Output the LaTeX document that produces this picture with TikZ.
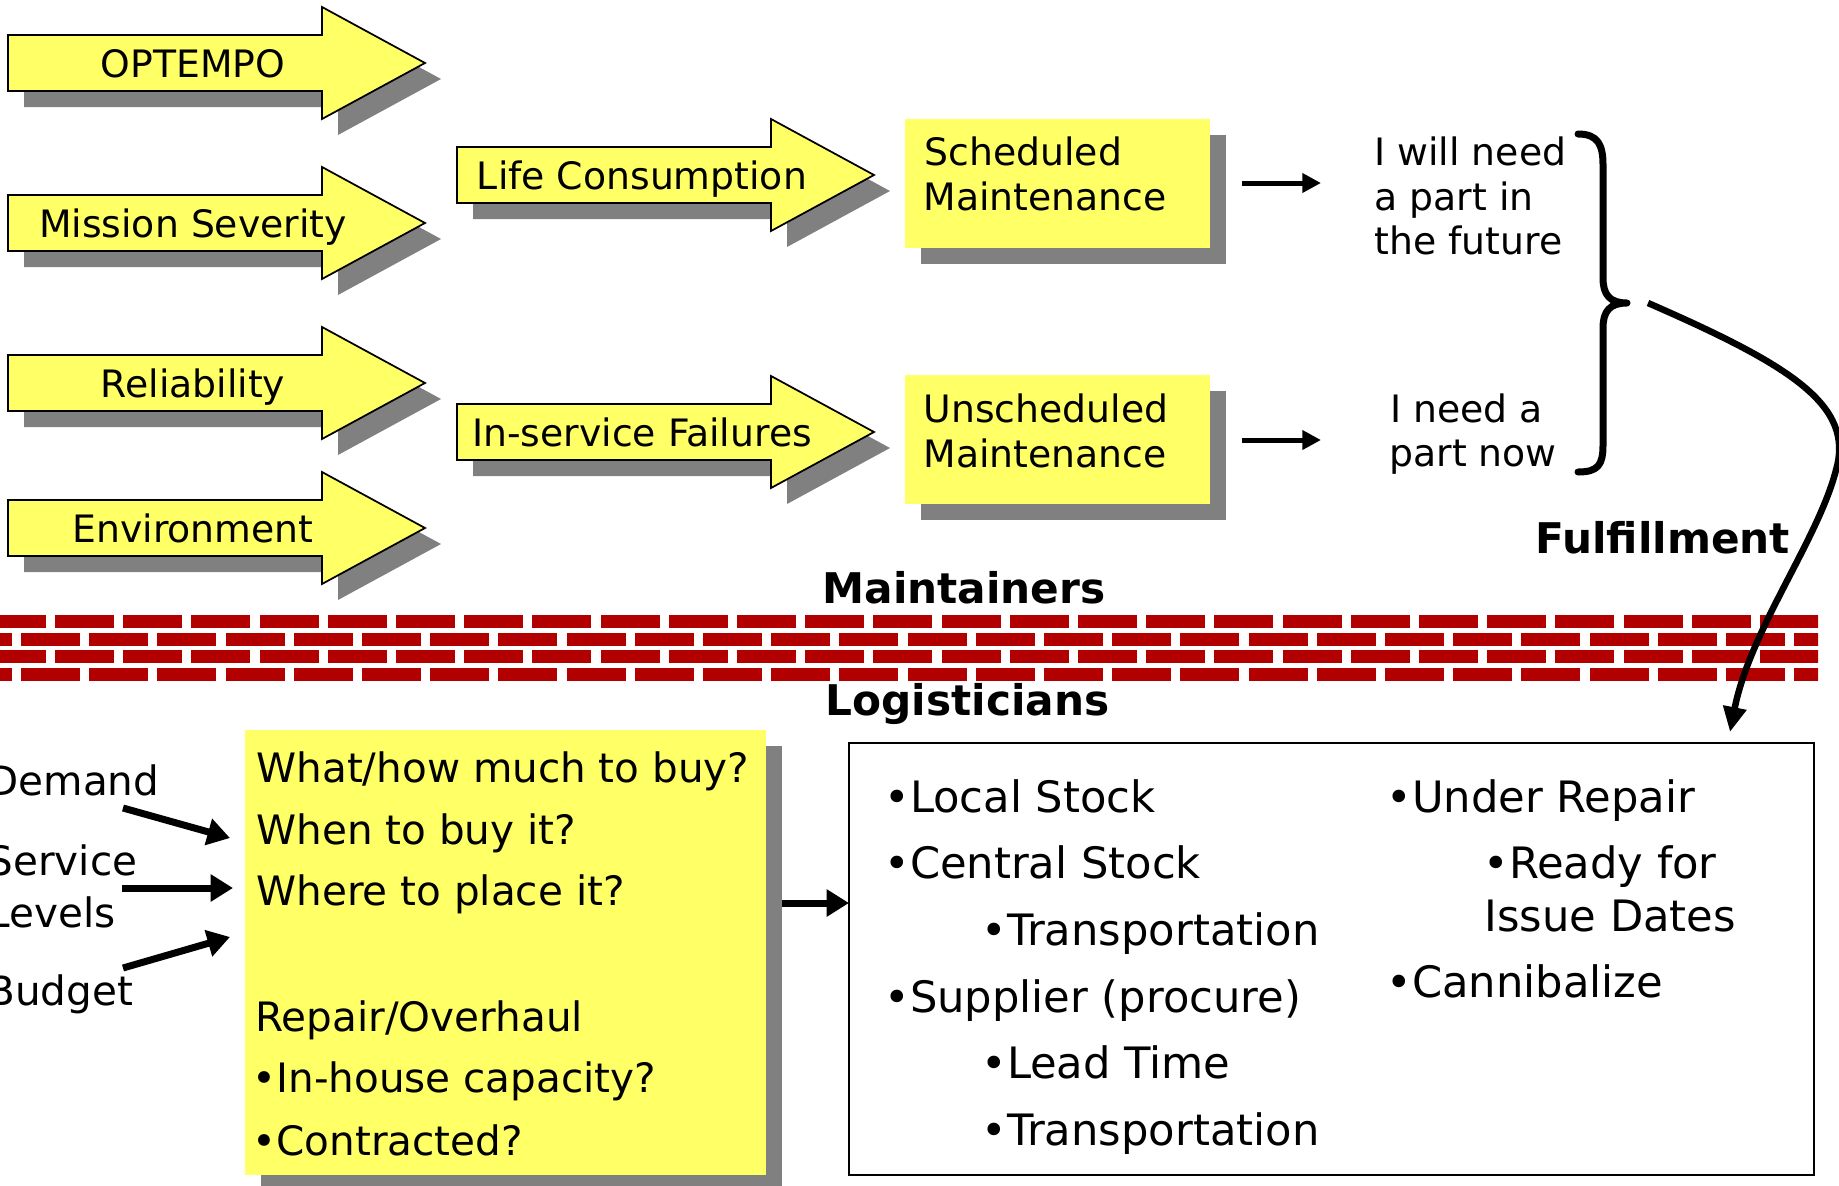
\documentclass[tikz,border=0pt]{standalone}
\usepackage{fontspec}
\setmainfont{DejaVu Sans}
\usetikzlibrary{arrows.meta}
\definecolor{yel}{RGB}{255,255,102}
\definecolor{shgray}{RGB}{128,128,128}
\definecolor{brick}{RGB}{178,0,0}
% #1 left x, #2 tip y, #3 name, #4 label
\newcommand\fatarrow[4]{%
  \path[fill=shgray] (#1+16,#2-12) -- (#1+330,#2-12) -- (#1+330,#2-40) -- (#1+433,#2+16)
     -- (#1+330,#2+72) -- (#1+330,#2+44) -- (#1+16,#2+44) -- cycle;
  \path[fatbody] (#1,#2-28) -- (#1+314,#2-28) -- (#1+314,#2-56) -- (#1+417,#2)
     -- (#1+314,#2+56) -- (#1+314,#2+28) -- (#1,#2+28) -- cycle;
  \node[ttop, anchor=base] (#3) at (#1+185,#2+14) {#4};
}
\begin{document}
\begin{tikzpicture}[x=0.4pt,y=-0.4pt,
  fatbody/.style={draw=black, line width=0.7pt, fill=yel, line join=miter},
  ttop/.style={inner sep=0pt, font=\fontsize{15.1}{17}\selectfont},
  tbot/.style={inner sep=0pt, anchor=base west, font=\fontsize{16.2}{19}\selectfont},
  tright/.style={inner sep=0pt, anchor=base west, font=\fontsize{17.3}{20}\selectfont},
  tbold/.style={inner sep=0pt, anchor=base west, font=\fontsize{16.9}{20}\selectfont\bfseries},
  smallarr/.style={line width=2pt, -{Triangle[length=7.5pt,width=7.5pt]}},
  bigarr/.style={line width=2.8pt, -{Triangle[length=9pt,width=10.5pt]}},
  bracestyle/.style={line width=2.8pt, line cap=round, line join=round},
]
\useasboundingbox (0,0) rectangle (1839,1186);
\clip (0,0) rectangle (1839,1186);

% brick wall
\begin{scope}
  \clip (0,600) rectangle (1818,700);
  \foreach \yy/\off in {615/-13.2, 632.5/-47.3, 650/-13.2, 667.5/-47.3}{
    \foreach \k in {0,...,27}{
      \fill[brick] (\off+68.2*\k, \yy) rectangle ++(59,13);
    }
  }
\end{scope}

% big arrows
\fatarrow{8}{63}{opt}{OPTEMPO}
\fatarrow{8}{223}{mis}{Mission Severity}
\fatarrow{8}{383}{rel}{Reliability}
\fatarrow{8}{528}{env}{Environment}
\fatarrow{457}{175}{life}{Life Consumption}
\fatarrow{457}{432}{insv}{In-service Failures}

% maintenance boxes
\fill[shgray] (920.6,135) rectangle (1225.5,264);
\fill[yel] (904.6,119) rectangle (1209.5,248);
\fill[shgray] (920.6,391) rectangle (1225.5,520);
\fill[yel] (904.6,375) rectangle (1209.5,504);
\node[ttop, anchor=base west] (sch1) at (924,165) {Scheduled};
\node[ttop, anchor=base west] (sch2) at (923,210) {Maintenance};
\node[ttop, anchor=base west] (uns1) at (923,422) {Unscheduled};
\node[ttop, anchor=base west] (uns2) at (923,467) {Maintenance};

% small arrows
\coordinate (sa1) at (1242,183);
\coordinate (ea1) at (1321,183);
\coordinate (sa2) at (1242,440);
\coordinate (ea2) at (1321,440);
\draw[smallarr] (sa1) -- (ea1);
\draw[smallarr] (sa2) -- (ea2);

% need texts
\node[ttop, anchor=base west] (fut1) at (1374,165) {I will need};
\node[ttop, anchor=base west] (fut2) at (1374,210) {a part in};
\node[ttop, anchor=base west] (fut3) at (1374,254) {the future};
\node[ttop, anchor=base west] (now1) at (1390,422) {I need a};
\node[ttop, anchor=base west] (now2) at (1389,466) {part now};

% brace
\draw[bracestyle] (1578,134) .. controls (1598,134) and (1603,145) .. (1603,165)
  -- (1603,278) .. controls (1603,295) and (1610,303) .. (1627,303)
  .. controls (1610,303) and (1603,311) .. (1603,328)
  -- (1603,445) .. controls (1603,465) and (1598,472) .. (1578,472);

% fulfillment
\coordinate (fulS) at (1648,303);
\coordinate (fulE) at (1730,732);
\draw[line width=2.6pt, -{Triangle[length=10pt,width=9pt]}] (fulS)
  .. controls (1790,365) and (1855,405) .. (1836,470)
  .. controls (1818,540) and (1750,630) .. (fulE);
\node[tbold] (ful) at (1535,553) {Fulfillment};
\node[tbold] (mnt) at (822,603) {Maintainers};
\node[tbold] (log) at (825,715) {Logisticians};

% lower left box
\fill[shgray] (261,746) rectangle (782,1191);
\fill[yel] (245,730) rectangle (766,1175);
\node[tbot] (q1) at (256,782) {What/how much to buy?};
\node[tbot] (q2) at (256,844) {When to buy it?};
\node[tbot] (q3) at (256,905) {Where to place it?};
\node[tbot] (q4) at (255,1031) {Repair/Overhaul};
\node[tbot] (q5) at (252,1092) {•In-house capacity?};
\node[tbot] (q6) at (252,1155) {•Contracted?};

% inputs
\node[tbot] (dem) at (-13,795) {Demand};
\node[tbot] (svc) at (-13,875) {Service};
\node[tbot] (lvl) at (-13,927) {Levels};
\node[tbot] (bud) at (-13,1005) {Budget};
\coordinate (dS) at (123,808);
\coordinate (dE) at (230,838);
\coordinate (sS) at (122,888);
\coordinate (sE) at (233,888);
\coordinate (bS) at (123,968);
\coordinate (bE) at (230,937);
\draw[bigarr] (dS) -- (dE);
\draw[bigarr] (sS) -- (sE);
\draw[bigarr] (bS) -- (bE);

% right box
\draw[line width=0.8pt] (849,743) rectangle (1814,1175);
\coordinate (bxS) at (782,903);
\coordinate (bxE) at (849,903);
\draw[bigarr] (bxS) -- (bxE);
\node[tright] (rb1) at (884,812) {•Local Stock};
\node[tright] (rb2) at (884,878) {•Central Stock};
\node[tright] (rb3) at (981,945) {•Transportation};
\node[tright] (rb4) at (884,1012) {•Supplier (procure)};
\node[tright] (rb5) at (981,1078) {•Lead Time};
\node[tright] (rb6) at (981,1145) {•Transportation};
\node[tright] (rc1) at (1386,812) {•Under Repair};
\node[tright] (rc2) at (1483,878) {•Ready for};
\node[tright] (rc3) at (1484,931) {Issue Dates};
\node[tright] (rc4) at (1386,997) {•Cannibalize};
\end{tikzpicture}
\end{document}
